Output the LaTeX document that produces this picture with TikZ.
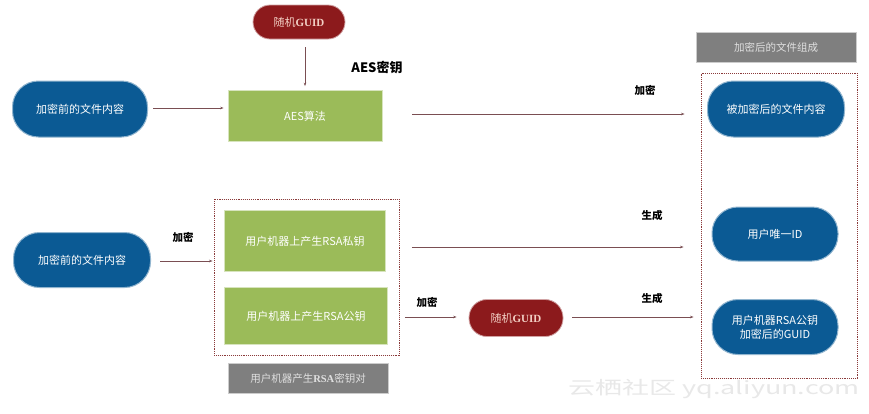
\documentclass[tikz,border=0pt]{standalone}
\usepackage{fontspec}
\setmainfont{Noto Sans CJK SC}
\newfontfamily\serifb{Liberation Serif}
\usetikzlibrary{arrows.meta,calc}
\definecolor{pillblue}{HTML}{0B5A94}
\definecolor{boxgreen}{HTML}{9BBB59}
\definecolor{pillred}{HTML}{8C1A1C}
\definecolor{boxgray}{HTML}{7F7F7F}
\definecolor{arrowc}{HTML}{7A4E52}
\definecolor{dotc}{HTML}{8B3A3A}
\definecolor{guidtxt}{HTML}{F2CFC4}
\begin{document}
\begin{tikzpicture}[x=1pt,y=-1pt,
  bluepill/.style={draw=pillblue!45!white,line width=1pt,fill=pillblue,text=white,
    rounded corners=26pt,inner sep=0pt,font=\fontsize{11}{13}\selectfont,align=center},
  redpill/.style={draw=pillred!40!white,line width=0.8pt,fill=pillred,text=guidtxt,
    rounded corners=17pt,inner sep=0pt,font=\fontsize{11}{12}\selectfont},
  greenbox/.style={draw=boxgreen!40!white,line width=0.8pt,fill=boxgreen,text=white,
    inner sep=0pt,font=\fontsize{11}{13}\selectfont},
  graybox/.style={draw=boxgray!40!white,line width=0.8pt,fill=boxgray,text=white!88!black,
    inner sep=0pt,font=\fontsize{10.5}{12}\selectfont},
  lbl/.style={font=\fontsize{10.5}{12}\selectfont\bfseries,text=black},
  conn/.style={draw=arrowc,line width=0.6pt,-{Stealth[length=3.5pt,width=2.5pt]}},
  dotbox/.style={draw=dotc,densely dotted,line width=0.9pt}
]
\useasboundingbox[fill=white] (0,0) rectangle (869,413);

% watermark
\node[text=gray!18,font=\fontsize{18}{20}\selectfont] (wm) at (714,389)
  {\scalebox{1.5}[1]{云栖社区 yq.aliyun.com}};

% top row
\node[redpill,minimum width=92pt,minimum height=34pt] (guid1) at (299,22) {随机{\serifb\bfseries GUID}};
\node[lbl,font=\fontsize{13}{15}\selectfont\bfseries] (aeskey) at (377,68) {AES密钥};
\node[bluepill,minimum width=135pt,minimum height=56pt] (src1) at (80,109) {加密前的文件内容};
\node[greenbox,minimum width=154pt,minimum height=51pt] (aes) at (305,116) {AES算法};
\node[lbl] (enclbl1) at (645,90) {加密};

% right column
\node[graybox,minimum width=160pt,minimum height=30pt] (hdr) at (776,47) {加密后的文件组成};
\node[bluepill,minimum width=137pt,minimum height=56pt] (enc) at (776,109) {被加密后的文件内容};
\node[bluepill,minimum width=126pt,minimum height=54pt] (uid) at (775,234) {用户唯一ID};
\node[bluepill,minimum width=126pt,minimum height=55pt,font=\fontsize{11}{14}\selectfont] (gk) at (775,327) {用户机器RSA公钥\\加密后的GUID};
\node[dotbox,minimum width=156pt,minimum height=305pt,inner sep=0pt] (outer) at (779,225.5) {};
\node[lbl] (gen1) at (652,215) {生成};
\node[lbl] (gen2) at (652,298) {生成};

% bottom row
\node[bluepill,minimum width=137pt,minimum height=55pt] (src2) at (82,260) {加密前的文件内容};
\node[lbl] (enclbl2) at (183,237) {加密};
\node[greenbox,minimum width=161pt,minimum height=61pt] (priv) at (305,241) {用户机器上产生RSA私钥};
\node[greenbox,minimum width=163pt,minimum height=57pt] (pub) at (306,316) {用户机器上产生RSA公钥};
\node[dotbox,minimum width=185pt,minimum height=156pt,inner sep=0pt] (rsabox) at (306.5,277) {};
\node[graybox,minimum width=160pt,minimum height=30pt] (pair) at (308,378) {用户机器产生{\serifb\bfseries RSA}密钥对};
\node[lbl] (enclbl3) at (427,302) {加密};
\node[redpill,minimum width=94pt,minimum height=37pt,rounded corners=18pt] (guid2) at (516,318) {随机{\serifb\bfseries GUID}};

% connectors
\draw[conn,shorten <=8pt,shorten >=4pt] (guid1.south -| aes.north) -- (aes.north);
\draw[conn,shorten <=5pt,shorten >=4pt] ([yshift=1pt]src1.east) -- ([yshift=1pt]src1.east -| aes.west);
\draw[conn,shorten <=30pt,shorten >=16pt] ([yshift=2pt]aes.east) -- ([yshift=2pt]aes.east -| outer.west);
\draw[conn,shorten <=26pt,shorten >=17pt] ([yshift=-6pt]priv.east) -- ([yshift=-6pt]priv.east -| outer.west);
\draw[conn,shorten <=9pt,shorten >=1pt] ([yshift=-1pt]src2.east) -- ([yshift=-1pt]src2.east -| rsabox.west);
\draw[conn,shorten <=17pt,shorten >=12pt] ([yshift=-1pt]pub.east) -- ([yshift=-1pt]pub.east -| guid2.west);
\draw[conn,shorten <=9pt,shorten >=7pt] ([yshift=1pt]guid2.east) -- ([yshift=1pt]guid2.east -| outer.west);
\end{tikzpicture}
\end{document}
